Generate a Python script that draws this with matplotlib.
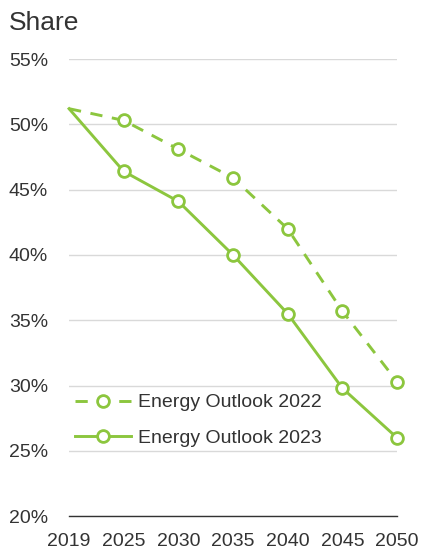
import matplotlib.pyplot as plt

plt.rcParams['font.family'] = ['Liberation Sans', 'DejaVu Sans']

years = ["2019", "2025", "2030", "2035", "2040", "2045", "2050"]
outlook_2022 = [51.2, 50.3, 48.1, 45.9, 42.0, 35.7, 30.3]
outlook_2023 = [51.2, 46.4, 44.1, 40.0, 35.5, 29.8, 26.0]
y_ticks = [20, 25, 30, 35, 40, 45, 50, 55]

green = "#8cc63e"
text_col = "#333333"

fig = plt.figure(figsize=(4.21, 5.52), dpi=100)
ax = fig.add_axes([0.164, 0.065, 0.779, 0.828])

x = list(range(len(years)))
ax.plot(x, outlook_2022, color=green, lw=2.1, dashes=[4.2, 3.3],
        marker="o", markersize=8.5, markerfacecolor="white", markeredgewidth=2.0,
        markevery=list(range(1, 7)), clip_on=False, zorder=3,
        label="Energy Outlook 2022")
ax.plot(x, outlook_2023, color=green, lw=2.1,
        marker="o", markersize=8.5, markerfacecolor="white", markeredgewidth=2.0,
        markevery=list(range(1, 7)), clip_on=False, zorder=3,
        label="Energy Outlook 2023")

ax.set_xlim(0, 6)
ax.set_ylim(20, 55)
ax.set_xticks(x)
ax.set_xticklabels(years)
ax.set_yticks(y_ticks)
ax.set_yticklabels([f"{v}%" for v in y_ticks])
ax.tick_params(axis="both", length=0, labelsize=14, colors=text_col)
ax.tick_params(axis="x", pad=12)
ax.tick_params(axis="y", pad=15)

ax.grid(axis="y", color="#d9d9d9", lw=1)
ax.set_axisbelow(True)
for s in ["top", "right", "left"]:
    ax.spines[s].set_visible(False)
ax.spines["bottom"].set_color("#333333")
ax.spines["bottom"].set_linewidth(1)

leg = ax.legend(loc="lower left", bbox_to_anchor=(-0.035, 0.113), frameon=False,
                fontsize=14, handlelength=2.9, handletextpad=0.35, labelspacing=0.92)
for t in leg.get_texts():
    t.set_color(text_col)

fig.text(0.022, 0.958, "Share", fontsize=19, color=text_col, va="center")

fig.savefig("out.png", dpi=100)
